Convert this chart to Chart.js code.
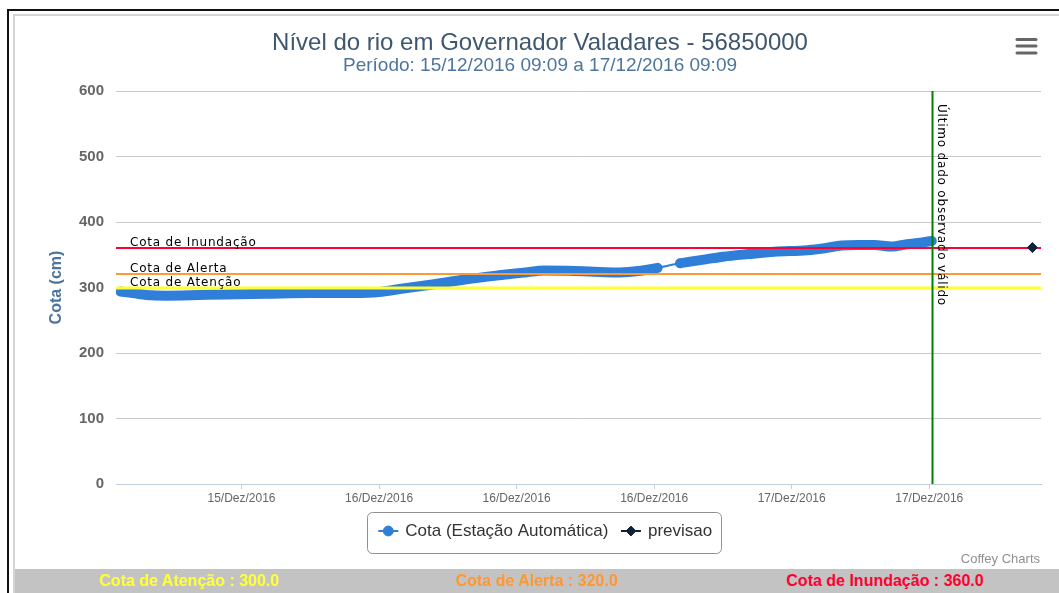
<!DOCTYPE html>
<html lang="pt-BR">
<head>
<meta charset="utf-8">
<title>Nível do rio em Governador Valadares</title>
<script src="https://cdn.jsdelivr.net/npm/chart.js@4/dist/chart.umd.min.js"></script>
<style>
  html, body { margin: 0; padding: 0; background: #fff; }
  body { width: 1059px; height: 593px; position: relative; overflow: hidden; font-family: 'Liberation Sans', Arial, sans-serif; }
  #moldura { position: absolute; left: 7px; top: 9px; right: 0; bottom: 0; border-left: 2px solid #111; border-top: 2px solid #111; }
  #interna { position: absolute; left: 13px; top: 14px; right: 0; bottom: 0; border-left: 2px solid #d4d4d4; border-top: 2px solid #d4d4d4; }
  #grafico { position: absolute; left: 15px; top: 16px; }
  #cotas { position: absolute; left: 15px; top: 569px; width: 1044px; height: 24px; background: #c3c3c3; display: flex; }
  #cotas div { flex: 1; text-align: center; font-weight: bold; font-size: 16px; line-height: 24px; }
</style>
</head>
<body>
<div id="moldura"></div>
<div id="interna"></div>
<canvas id="grafico" width="1044" height="553"></canvas>
<div id="cotas"></div>

<script>
// DADOS (horas contadas a partir de 15/Dez/2016 00:00)
const cotaHoras = [9.95, 10.8, 11.8, 12.6, 14.0, 16.0, 18.5, 21.0, 23.5, 25.0, 26.3, 28.2, 30.2, 32.1, 33.5, 34.6, 36.0, 37.5, 38.8, 39.8, 40.6, 41.2,
  42.5, 44.0, 45.0, 46.5, 48.0, 49.9, 50.9, 51.9, 52.8, 53.8, 54.8, 55.7, 56.5, 57.15];
const cotaValores = [294, 291, 288, 287.5, 288, 289.5, 290.5, 291.5, 291.5, 293, 298, 305, 313, 319, 323, 326, 325.5, 324, 323, 324.5, 327, 330,
  337, 343, 347, 351, 354.5, 357, 360, 364, 365, 365, 362.5, 366, 368.5, 371];
const falhaInicio = 41.2; // trecho sem leituras até a próxima

const previsaoHoras = [63];
const previsaoValores = [361];

const rotulosHoras = [17, 25, 33, 41, 49, 57];
const rotulosX = ["15/Dez/2016", "16/Dez/2016", "16/Dez/2016", "16/Dez/2016", "17/Dez/2016", "17/Dez/2016"];

const cotasNomes = ["Cota de Atenção", "Cota de Alerta", "Cota de Inundação"];
const cotasValores = [300, 320, 360];
const cotasCores = ["#ffff33", "#ff9933", "#ff0033"];

const legendaDesloc = 6;

// FAIXA DE COTAS
const faixa = document.getElementById("cotas");
cotasNomes.forEach((n, i) => {
  const div = document.createElement("div");
  div.style.color = cotasCores[i];
  div.textContent = `${n} : ${cotasValores[i].toFixed(1)}`;
  faixa.appendChild(div);
});

// EXTRAS
const extras = {
  id: "extras",
  afterLayout(chart) {
    chart.legend.left += legendaDesloc;
    chart.legend.right += legendaDesloc;
  },
  afterDatasetDraw(chart, args) {
    if (args.index !== 0) return;
    const { ctx, chartArea: a, scales: { y } } = chart;
    ctx.save();
    ctx.font = '12px "DejaVu Sans"';
    ctx.letterSpacing = "0.8px";
    cotasNomes.forEach((nome, i) => {
      const py = Math.round(y.getPixelForValue(cotasValores[i]));
      ctx.strokeStyle = cotasCores[i];
      ctx.lineWidth = i === 0 ? 3 : 2;
      ctx.beginPath();
      ctx.moveTo(a.left, py);
      ctx.lineTo(a.right, py);
      ctx.stroke();
      ctx.fillStyle = "#000";
      ctx.fillText(nome, a.left + 14, py - 5);
    });
    ctx.restore();
  },
  afterDatasetsDraw(chart) {
    const { ctx, chartArea: a, scales: { x } } = chart;
    const px = Math.round(x.getPixelForValue(cotaHoras[cotaHoras.length - 1])) + 0.5;
    ctx.save();
    ctx.strokeStyle = "#008000";
    ctx.lineWidth = 2;
    ctx.beginPath();
    ctx.moveTo(px, a.top);
    ctx.lineTo(px, a.bottom);
    ctx.stroke();
    ctx.translate(px + 5, a.top + 13);
    ctx.rotate(Math.PI / 2);
    ctx.font = '12px "DejaVu Sans"';
    ctx.letterSpacing = "0.8px";
    ctx.fillStyle = "#000";
    ctx.textBaseline = "alphabetic";
    ctx.fillText("Último dado observado válido", 0, 0);
    ctx.restore();
  },
  afterDraw(chart) {
    const { ctx } = chart;
    const lg = chart.legend;
    const caixas = lg.legendHitBoxes;
    ctx.save();
    // linhas dos símbolos da legenda
    caixas.forEach((c, i) => {
      const cy = c.top + c.height / 2;
      const cx = c.left + 8.5;
      ctx.strokeStyle = lg.legendItems[i].strokeStyle;
      ctx.lineWidth = 2;
      ctx.beginPath();
      ctx.moveTo(cx - 10, cy);
      ctx.lineTo(cx + 10, cy);
      ctx.stroke();
    });
    const ult = caixas[caixas.length - 1];
    const cy = caixas[0].top + caixas[0].height / 2;
    ctx.strokeStyle = "#909090";
    ctx.lineWidth = 1;
    ctx.beginPath();
    ctx.roundRect(Math.round(caixas[0].left - 13) + 0.5, Math.round(cy - 19) + 0.5, Math.round(ult.left + ult.width + 9 - caixas[0].left + 13), 41, 5);
    ctx.stroke();
    // créditos
    ctx.font = '13px "Liberation Sans"';
    ctx.fillStyle = "#909090";
    ctx.textAlign = "right";
    ctx.textBaseline = "middle";
    ctx.fillText("Coffey Charts", 1025, 543);
    // menu
    ctx.strokeStyle = "#666";
    ctx.lineWidth = 3;
    ctx.lineCap = "round";
    [23.5, 30, 37].forEach(yy => {
      ctx.beginPath();
      ctx.moveTo(1002, yy);
      ctx.lineTo(1021, yy);
      ctx.stroke();
    });
    ctx.restore();
  }
};

Chart.defaults.font.family = "'Liberation Sans', Arial, sans-serif";

// LINHA
const nivel = document.getElementById("grafico").getContext("2d");
new Chart(nivel, {
  type: "line",
  data: {
    datasets: [{
      label: "Cota (Estação Automática)",
      data: cotaHoras.map((h, i) => ({ x: h, y: cotaValores[i] })),
      borderColor: "#2f7ed8",
      backgroundColor: "#2f7ed8",
      borderWidth: 10,
      borderCapStyle: "round",
      borderJoinStyle: "round",
      cubicInterpolationMode: "monotone",
      pointRadius: 0,
      pointStyle: "circle",
      segment: {
        borderWidth: c => (c.p0.parsed.x === falhaInicio ? 2 : undefined)
      },
      order: 2
    }, {
      label: "previsao",
      data: previsaoHoras.map((h, i) => ({ x: h, y: previsaoValores[i] })),
      borderColor: "#0d233a",
      backgroundColor: "#0d233a",
      borderWidth: 1,
      pointStyle: "rectRot",
      pointRadius: 5,
      showLine: false,
      order: 1
    }]
  },
  options: {
    responsive: false,
    animation: false,
    layout: { padding: { left: 24, right: 18, top: 0, bottom: 19.5 } },
    scales: {
      x: {
        type: "linear",
        min: 9.7,
        max: 63.5,
        afterBuildTicks: s => { s.ticks = rotulosHoras.map(v => ({ value: v })); },
        afterFit: s => { s.height = 24.5; },
        ticks: {
          autoSkip: false,
          maxRotation: 0,
          padding: 2,
          color: "#666",
          font: { size: 12 },
          callback: v => {
            const i = rotulosHoras.indexOf(v);
            return i >= 0 ? rotulosX[i] : "";
          }
        },
        grid: { drawOnChartArea: false, drawTicks: true, tickLength: 5, color: "#c0d0e0" },
        border: { display: true, color: "#c0d0e0", width: 1 }
      },
      y: {
        min: 0,
        max: 600,
        afterFit: s => { s.width = 77; },
        ticks: { stepSize: 100, padding: 12, color: "#666", font: { size: 15, weight: "bold" } },
        grid: { drawTicks: false, color: c => (c.tick.value === 0 ? "rgba(0,0,0,0)" : "#c8c8c8") },
        border: { display: false },
        title: {
          display: true,
          text: "Cota (cm)",
          color: "#4d759e",
          font: { size: 16, weight: "bold", lineHeight: 1.2 },
          padding: { top: 8.4, bottom: 0 }
        }
      }
    },
    plugins: {
      title: {
        display: true,
        text: "Nível do rio em Governador Valadares - 56850000",
        color: "#3e576f",
        font: { size: 24, weight: "normal", lineHeight: 1 },
        padding: { top: 15, bottom: 0 }
      },
      subtitle: {
        display: true,
        text: "Período: 15/12/2016 09:09 a 17/12/2016 09:09",
        color: "#4d759e",
        font: { size: 19, weight: "normal", lineHeight: 1 },
        padding: { top: 1.5, bottom: 15.5 }
      },
      legend: {
        position: "bottom",
        labels: {
          usePointStyle: true,
          boxHeight: 7,
          boxWidth: 17,
          padding: 14,
          color: "#333",
          font: { size: 17 },
          sort: (a, b) => a.datasetIndex - b.datasetIndex,
          generateLabels: chart => {
            const itens = Chart.defaults.plugins.legend.labels.generateLabels(chart);
            itens.forEach(it => { it.lineWidth = 1; });
            return itens;
          }
        }
      },
      tooltip: { enabled: false }
    }
  },
  plugins: [extras]
});
</script>
</body>
</html>
